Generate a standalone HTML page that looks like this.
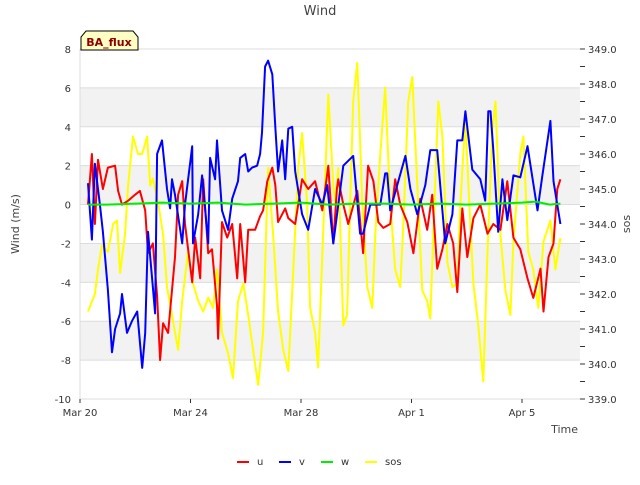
<!DOCTYPE html>
<html><head><meta charset="utf-8"><style>
body{margin:0;background:#fff;font-family:"Liberation Sans","DejaVu Sans",sans-serif;}
svg text{font-family:"DejaVu Sans","Liberation Sans",sans-serif;}
</style></head><body>
<svg id="c" width="640" height="480" viewBox="0 0 640 480">
<rect x="0" y="0" width="640" height="480" fill="#fff"/>
<g id="bands"></g><g id="grid"></g><g id="axes"></g><g id="series"></g>
<text x="320" y="15" text-anchor="middle" font-size="13" fill="#444">Wind</text>
<text transform="translate(19,224) rotate(-90)" text-anchor="middle" font-size="11" fill="#444">Wind (m/s)</text>
<text transform="translate(630,224) rotate(-90)" text-anchor="middle" font-size="11" fill="#444">sos</text>
<text x="578" y="433" text-anchor="end" font-size="11" fill="#444">Time</text>
<g>
<path d="M81,50 L81,37 L86,31 L133,31 L138,37 L138,50 Z" fill="#ffffc4" stroke="#000" stroke-width="1"/>
<text x="109" y="46" text-anchor="middle" font-size="11" font-weight="bold" fill="#8b0000">BA_flux</text>
</g>
<g id="legend"></g>
</svg>
<script>
const NS="http://www.w3.org/2000/svg";
const yTicks=[8,6,4,2,0,-2,-4,-6,-8,-10];
const y2Ticks=[349,348,347,346,345,344,343,342,341,340,339];
const xTickLabels=["Mar 20","Mar 24","Mar 28","Apr 1","Apr 5"];
const xTickDays=[0,4,8,12,16];
const grayBands=[[4,6],[0,2],[-4,-2],[-8,-6]];
const uTimes=[.29,.43,.54,.65,.83,1.01,1.27,1.38,1.52,1.74,1.99,2.17,2.36,2.46,2.64,2.79,2.90,3.01,3.19,3.33,3.44,3.55,3.70,3.80,4.06,4.17,4.35,4.46,4.64,4.78,4.96,5.00,5.14,5.33,5.51,5.69,5.80,5.98,6.09,6.34,6.52,6.63,6.78,6.96,7.07,7.17,7.43,7.54,7.79,8.04,8.26,8.51,8.77,8.99,9.17,8.95+0.35,9.35,9.53,9.71,10.04,10.25,10.43,10.62,10.80,10.98,11.23,11.41,11.59,11.85,12.07,12.32,12.57,12.75,12.93,13.12,13.30,13.51,13.66,13.84,14.02,14.24,14.49,14.75,14.96,15.22,15.47,15.69,15.94,16.20,16.41,16.67,16.78,16.96,17.14,17.28,17.39];
const uValues=[0,2.6,-1,2.3,0.8,1.9,2,0.7,0,0.2,0.5,0.7,-0.3,-2.5,-2,-4.7,-8,-6.1,-6.6,-4.4,-2.7,0.5,1.2,-1,-4,-1.7,-3.8,1.3,-2.5,-2.3,-5.2,-6.9,-0.9,-1.7,-1,-3.8,-1,-4,-1.3,-1.3,-0.6,-0.3,1.2,1.9,1,-0.9,-0.2,-0.7,-1,1.3,0.8,1.2,-0.3,2,-2,0.8,1.3,0,-1,0.7,-2.5,2,1.2,-0.9,-1.2,-1,1.3,0,-0.9,-2.5,0.3,-1.3,0.5,-3.3,-2.3,-1,-2,-4.5,-0.2,-2.7,-0.7,0,-1.5,-1,-1.3,1.2,-1.7,-2.3,-3.8,-4.8,-3.3,-5.5,-2.7,-2,0.8,1.3];
const vTimes=[.29,.43,.54,.72,.83,1.01,1.16,1.27,1.45,1.52,1.70,1.88,2.07,2.25,2.36,2.46,2.61,2.72,2.79,2.97,3.15,3.26,3.33,3.44,3.70,3.80,4.06,4.09,4.28,4.42,4.64,4.71,4.89,4.96,5.14,5.36,5.51,5.72,5.80,5.98,6.09,6.23,6.41,6.52,6.59,6.70,6.81,6.96,7.07,7.17,7.32,7.43,7.54,7.68,7.79,8.04,8.26,8.51,8.77,8.95,9.17,9.53,9.89,10.14,10.25,10.51,10.87,11.05,11.12,11.23,11.78,11.96,12.21,12.50,12.68,12.93,13.22,13.48,13.66,13.84,13.95,14.20,14.49,14.67,14.78,14.86,14.96,15.14,15.29,15.47,15.69,15.94,16.20,16.56,16.74,17.03,17.14,17.39];
const vValues=[1.1,-1.8,2.1,0,-1.4,-4.4,-7.6,-6.4,-5.6,-4.6,-6.6,-6,-5.5,-8.4,-6.6,-1.4,-3.8,-5.6,2.6,3.3,0.8,-0.2,1.3,0.5,-2,0,3,-2,-0.5,1.5,-2,2.4,1.3,3.3,-0.3,-1.3,0.3,1.2,2.4,2.6,1.7,1.9,2,2.6,3.7,7.1,7.4,6.7,4,1.7,3.3,1.3,3.9,4,1.7,-0.5,-1.3,0.8,0,1,-2,2,2.5,-1.5,-1.5,0,0,1.6,1.6,-0.3,2.5,0.8,-0.5,1,2.8,2.8,-2,-0.5,3.3,3.3,4.8,1.8,1.3,0.2,4.8,4.8,2.8,-1.4,1.3,-0.8,1.5,1.4,3,-0.3,1.5,4.3,1.2,-1];
const wTimes=[.29,1,2,3,4,5,6,7,8,9,10,11,12,13,14,15,16,16.5,17,17.39];
const wValues=[0,0,0.05,0.1,0.05,0.1,0,0.05,0.1,0,0.05,0.05,0,0.05,0,0.05,0.1,0.15,0,0.05];
const sosTimes=[.29,.54,.65,.80,1.01,1.20,1.34,1.45,1.63,1.74,1.92,2.10,2.25,2.43,2.54,2.64,2.83,3.01,3.15,3.33,3.55,3.70,3.91,4.09,4.28,4.46,4.64,4.82,4.96,5.14,5.36,5.54,5.72,5.91,6.09,6.34,6.45,6.63,6.81,6.99,7.17,7.36,7.54,7.72,7.90,8.04,8.22,8.33,8.51,8.62,8.80,8.99,9.17,9.24,9.35,9.53,9.67,9.78,9.89,10.04,10.22,10.40,10.58,10.69,10.87,11.05,11.23,11.41,11.59,11.70,11.88,12.03,12.21,12.39,12.57,12.68,12.79,12.97,13.12,13.30,13.48,13.66,13.77,13.95,14.06,14.24,14.42,14.60,14.75,14.93,15.04,15.22,15.40,15.58,15.69,15.94,16.05,16.23,16.41,16.59,16.78,17.03,17.21,17.39];
const sosValues=[341.5,342,342.7,343.4,343.2,344,344.1,342.6,343.7,345.1,346.5,346,346,346.5,345.1,345.3,344.6,343.7,342.2,341.4,340.4,341.8,343.2,342.3,341.8,341.5,341.9,341.6,342.7,340.9,340.3,339.6,341.8,342.3,341.4,340,339.4,340.9,345.6,343.7,341.5,340.4,339.8,342.7,345.6,346.6,344.6,341.6,340.9,339.9,343.7,347.7,345.1,344.6,345.6,341.1,341.4,344.6,347.5,348.6,344.6,342.2,341.6,343.7,346,347.9,344.6,342.7,342.2,343.9,347.5,348.2,345.1,342.1,341.8,341.3,343.7,347.5,346.5,342.9,342.2,342.3,344.6,347,345.1,342.3,341.1,339.5,343.2,346.7,347.5,343.7,342.1,341.4,343.5,346,346.5,343.2,342.7,341.6,343.5,344.1,342.7,343.6];

const X0=80,X1=580,Y0=49,Y1=399;
const xS=d=>X0+d*(X1-X0)/18.1;
const yS=v=>Y0+(8-v)*(Y1-Y0)/18;
const y2S=v=>Y0+(349-v)*(Y1-Y0)/10;
function el(t,a,p){const e=document.createElementNS(NS,t);for(const k in a)e.setAttribute(k,a[k]);p.appendChild(e);return e;}
const bands=document.getElementById('bands'),grid=document.getElementById('grid'),axes=document.getElementById('axes'),ser=document.getElementById('series'),leg=document.getElementById('legend');
grayBands.forEach(b=>{const r=el('rect',{x:X0,y:yS(b[1]),width:X1-X0,height:yS(b[0])-yS(b[1]),fill:'#f2f2f2'},bands);

});
yTicks.forEach(v=>{el('line',{x1:X0,x2:X1,y1:yS(v),y2:yS(v),stroke:'#dcdcdc','stroke-width':1},grid);
const t=el('text',{x:X0-9,y:yS(v)+4,'text-anchor':'end','font-size':10,fill:'#333'},axes);t.textContent=v;

});
el('line',{x1:X0,x2:X0,y1:Y0,y2:Y1,stroke:'#dcdcdc'},grid);
y2Ticks.forEach(v=>{el('line',{x1:X1,x2:X1+5,y1:y2S(v),y2:y2S(v),stroke:'#333'},axes);
if(v>339)el('line',{x1:X1,x2:X1+5,y1:y2S(v-0.5),y2:y2S(v-0.5),stroke:'#333'},axes);
const t=el('text',{x:X1+8,y:y2S(v)+4,'font-size':10,fill:'#333'},axes);t.textContent=v.toFixed(1);

});
xTickDays.forEach((d,i)=>{el('line',{x1:xS(d),x2:xS(d),y1:Y1,y2:Y1+4,stroke:'#333'},axes);
const t=el('text',{x:xS(d),y:Y1+17,'text-anchor':'middle','font-size':10,fill:'#333'},axes);t.textContent=xTickLabels[i];

});
function line(ts,vs,sc,col,name){const p=el('polyline',{points:ts.map((t,i)=>xS(t).toFixed(1)+','+sc(vs[i]).toFixed(1)).join(' '),fill:'none',stroke:col,'stroke-width':2,'stroke-linejoin':'round'},ser);

}
line(sosTimes,sosValues,y2S,'#ffff00','sos-line');
line(uTimes,uValues,yS,'#ff0000','u-line');
line(vTimes,vValues,yS,'#0000ff','v-line');
line(wTimes,wValues,yS,'#00ee00','w-line');
const legNames=['u','v','w','sos'],legCols=['#ff0000','#0000ff','#00ee00','#ffff00'],legX=[237,279,321,365];
legNames.forEach((n,i)=>{const g=el('g',{},leg);


el('line',{x1:legX[i],x2:legX[i]+12,y1:462,y2:462,stroke:legCols[i],'stroke-width':2},g);
const t=el('text',{x:legX[i]+20,y:465,'font-size':10,fill:'#333'},g);t.textContent=n;});
</script>
</body></html>
